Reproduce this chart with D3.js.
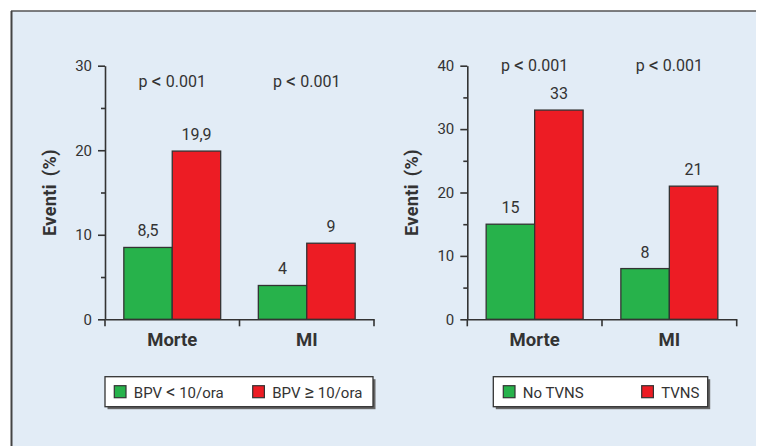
<!DOCTYPE html>
<html>
<head>
<meta charset="utf-8">
<script src="https://cdn.jsdelivr.net/npm/d3@7"></script>
<style>
  body { margin: 0; background: #fff; }
  text { font-family: Roboto, "Liberation Sans", sans-serif; fill: #333; }
</style>
</head>
<body>
<svg id="chart" width="758" height="446"></svg>
<script>
// data
var categories = ["Morte", "MI"];
var pLabels = [["p ", "<", " 0.001"], ["p ", "<", " 0.001"]];

var bpvNames = [["BPV ", "<", " 10/ora"], ["BPV ", "\u2265", " 10/ora"]];
var bpvLow = [8.5, 4];
var bpvHigh = [19.9, 9];
var bpvTicks = [0, 10, 20, 30];
var bpvMinor = [5, 15, 25];

var tvnsNames = [["No TVNS"], ["TVNS"]];
var noTvns = [15, 8];
var tvns = [33, 21];
var tvnsTicks = [0, 10, 20, 30, 40];
var tvnsMinor = [5, 15, 25, 35];

var colors = ["#27b24b", "#ed1c24"];
var ink = "#333";

var svg = d3.select("#chart");

// panel background + frame
svg.append("rect")
    .attr("x", 11).attr("y", 11)
    .attr("width", 745).attr("height", 440)
    .attr("fill", "#e2ecf6");
svg.append("line")
    .attr("x1", 11).attr("x2", 756).attr("y1", 11).attr("y2", 11)
    .attr("stroke", "#555").attr("stroke-width", 1.5);
svg.append("line")
    .attr("x1", 11.5).attr("x2", 11.5).attr("y1", 11).attr("y2", 446)
    .attr("stroke", "#444").attr("stroke-width", 2);

var fmt = function (v) { return String(v).replace(".", ","); };

// text with a wider relation sign in the middle
var richText = function (sel, parts, size) {
    parts.forEach(function (p, i) {
        var t = sel.append("tspan").text(p);
        if (parts.length > 1 && i === 1) t.style("font-size", (size * 1.25) + "px").attr("dy", "0.04em");
        if (parts.length > 1 && i === 2) t.attr("dy", "-0.04em");
    });
};

var drawPanel = function (cfg) {
    var g = svg.append("g");

    var y = d3.scaleLinear().domain([0, cfg.max]).range([319.3, 65.7]);
    var x = d3.scaleBand().domain(categories).range([cfg.left, cfg.right]);
    var pad = x.bandwidth() * 0.14;
    var x1 = d3.scaleBand().domain([0, 1]).range([pad, x.bandwidth() - pad]);

    // bars
    var series = [cfg.a, cfg.b];
    series.forEach(function (vals, si) {
        g.selectAll(".bar" + si).data(vals).enter().append("rect")
            .attr("x", function (d, i) { return x(categories[i]) + x1(si); })
            .attr("y", function (d) { return y(d); })
            .attr("width", x1.bandwidth())
            .attr("height", function (d) { return y(0) - y(d); })
            .attr("fill", colors[si])
            .attr("stroke", ink)
            .attr("stroke-width", 1.3);

        g.selectAll(".val" + si).data(vals).enter().append("text")
            .attr("x", function (d, i) { return x(categories[i]) + x1(si) + x1.bandwidth() / 2; })
            .attr("y", function (d) { return y(d) - 11; })
            .attr("text-anchor", "middle")
            .style("font-size", "16px")
            .text(fmt);
    });

    // p values
    pLabels.forEach(function (parts, i) {
        var t = g.append("text")
            .attr("x", x(categories[i]) + x.bandwidth() / 2)
            .attr("y", cfg.pY)
            .attr("text-anchor", "middle")
            .style("font-size", "16px");
        richText(t, parts, 16);
    });

    // y axis
    var yAxis = g.append("g")
        .attr("transform", "translate(" + cfg.left + ",0)")
        .call(d3.axisLeft(y).tickValues(cfg.ticks).tickSize(7).tickSizeOuter(0).tickPadding(6));
    yAxis.selectAll("text").style("font-size", "15px").attr("fill", ink);
    yAxis.selectAll("line, path").attr("stroke", ink).attr("stroke-width", 1.6);

    var yMinor = g.append("g")
        .attr("transform", "translate(" + cfg.left + ",0)")
        .call(d3.axisLeft(y).tickValues(cfg.minor).tickSize(4).tickFormat(""));
    yMinor.select(".domain").remove();
    yMinor.selectAll("line").attr("stroke", ink).attr("stroke-width", 1.6);

    // x axis
    var xAxis = g.append("g")
        .attr("transform", "translate(0," + y(0) + ")")
        .call(d3.axisBottom(x).tickSize(0).tickSizeOuter(0).tickPadding(14));
    xAxis.selectAll("text")
        .style("font-size", "18.5px").style("font-weight", "bold").attr("fill", ink);
    xAxis.select(".domain").attr("stroke", ink).attr("stroke-width", 1.6);

    var bounds = [cfg.left].concat(categories.map(function (c) { return x(c) + x.bandwidth(); }));
    xAxis.selectAll(".bound").data(bounds).enter().append("line")
        .attr("x1", function (d) { return d; })
        .attr("x2", function (d) { return d; })
        .attr("y1", 0).attr("y2", 7)
        .attr("stroke", ink).attr("stroke-width", 1.6);

    // y title
    g.append("text")
        .attr("transform", "translate(" + cfg.titleX + "," + (y(0) + y(cfg.max)) / 2 + ") rotate(-90)")
        .attr("text-anchor", "middle")
        .style("font-size", "18px")
        .style("font-weight", "bold")
        .style("letter-spacing", "0.4px")
        .style("word-spacing", "3px")
        .text("Eventi (%)");

    // legend
    var lg = g.append("g");
    lg.append("rect")
        .attr("x", cfg.legX + 2.5).attr("y", 376.7 + 2.5)
        .attr("width", cfg.legW).attr("height", 30)
        .attr("fill", "#666");
    lg.append("rect")
        .attr("x", cfg.legX).attr("y", 376.7)
        .attr("width", cfg.legW).attr("height", 30)
        .attr("fill", "#fff").attr("stroke", ink).attr("stroke-width", 1.3);

    cfg.names.forEach(function (parts, i) {
        lg.append("rect")
            .attr("x", cfg.legItems[i]).attr("y", 385.7)
            .attr("width", 11.7).attr("height", 12)
            .attr("fill", colors[i]).attr("stroke", ink).attr("stroke-width", 1.2);
        var t = lg.append("text")
            .attr("x", cfg.legItems[i] + 19.5).attr("y", 397.5)
            .style("font-size", "15px");
        richText(t, parts, 15);
    });
};

drawPanel({
    a: bpvLow, b: bpvHigh, names: bpvNames,
    max: 30, ticks: bpvTicks, minor: bpvMinor,
    left: 105, right: 374, pY: 87, titleX: 55.5,
    legX: 105, legW: 268, legItems: [114.3, 252.7]
});

drawPanel({
    a: noTvns, b: tvns, names: tvnsNames,
    max: 40, ticks: tvnsTicks, minor: tvnsMinor,
    left: 467.3, right: 736.7, pY: 71, titleX: 418,
    legX: 493.3, legW: 214.4, legItems: [503.3, 641.7]
});
</script>
</body>
</html>
